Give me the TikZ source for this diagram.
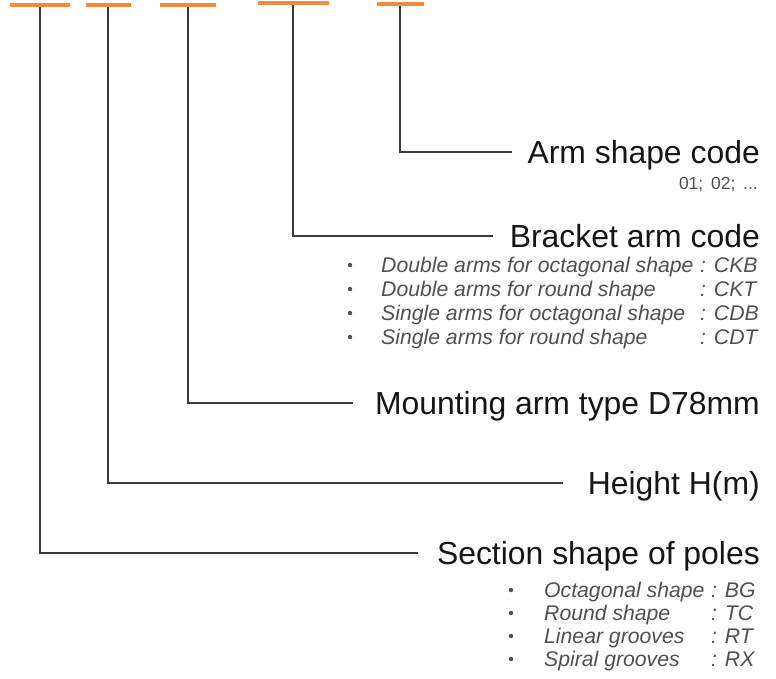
\documentclass[tikz,border=0pt]{standalone}
\usepackage{fontspec}
\setmainfont{Liberation Sans}
\definecolor{barorange}{HTML}{F08A3C}
\definecolor{linegray}{HTML}{3A3A3A}
\definecolor{titlecol}{HTML}{161616}
\definecolor{subcol}{HTML}{505050}
\begin{document}
\begin{tikzpicture}[x=1pt,y=-1pt,
  bar/.style={fill=barorange, draw=none, minimum height=4pt, inner sep=0pt},
  leader/.style={draw=linegray, line width=2pt},
  title/.style={anchor=base east, inner sep=0pt, text=titlecol, font=\fontsize{31.9}{36}\selectfont},
  item/.style={anchor=base west, inner sep=0pt, text=subcol, font=\fontsize{21.2}{24}\selectfont\itshape},
  bul/.style={circle, fill=subcol, inner sep=0pt, minimum size=4.4pt},
  small/.style={anchor=base east, inner sep=0pt, text=subcol, font=\fontsize{17.5}{20}\selectfont}]
\useasboundingbox (0,0) rectangle (776,678);
% orange bars
\node[bar, minimum width=60pt] (b1) at (40,5) {};
\node[bar, minimum width=45pt] (b2) at (108,5) {};
\node[bar, minimum width=56pt] (b3) at (188,5) {};
\node[bar, minimum width=71pt] (b4) at (293,3) {};
\node[bar, minimum width=47pt] (b5) at (400,4) {};
% titles
\node[title] (t5) at (760,163) {Arm shape code};
\node[title] (t4) at (760,247) {Bracket arm code};
\node[title] (t3) at (760,414) {Mounting arm type D78mm};
\node[title] (t2) at (760,494) {Height H(m)};
\node[title] (t1) at (760,564) {Section shape of poles};
% leader ends
\coordinate (e5) at (512,152);
\coordinate (e4) at (493,236);
\coordinate (e3) at (353,403);
\coordinate (e2) at (563,483);
\coordinate (e1) at (418,553);
\draw[leader] (b5.south) |- (e5);
\draw[leader] (b4.south) |- (e4);
\draw[leader] (b3.south) |- (e3);
\draw[leader] (b2.south) |- (e2);
\draw[leader] (b1.south) |- (e1);
% arm shape code values
\node[small] (armcodes) at (758,189) {01;\, 02;\, ...};
% bracket arm list
\node[bul] (kb1) at (350,265) {};
\node[bul] (kb2) at (350,289) {};
\node[bul] (kb3) at (350,313) {};
\node[bul] (kb4) at (350,337) {};
\node[item] (k1) at (381,272) {Double arms for octagonal shape};
\node[item] (k2) at (381,296) {Double arms for round shape};
\node[item] (k3) at (381,320) {Single arms for octagonal shape};
\node[item] (k4) at (381,344) {Single arms for round shape};
\node[item] (kc1) at (700,272) {: CKB};
\node[item] (kc2) at (700,296) {: CKT};
\node[item] (kc3) at (700,320) {: CDB};
\node[item] (kc4) at (700,344) {: CDT};
% section list
\node[bul] (sb1) at (511,590) {};
\node[bul] (sb2) at (511,613) {};
\node[bul] (sb3) at (511,636) {};
\node[bul] (sb4) at (511,659) {};
\node[item] (s1) at (544,597) {Octagonal shape};
\node[item] (s2) at (544,620) {Round shape};
\node[item] (s3) at (544,643) {Linear grooves};
\node[item] (s4) at (544,666) {Spiral grooves};
\node[item] (sc1) at (711,597) {: BG};
\node[item] (sc2) at (711,620) {: TC};
\node[item] (sc3) at (711,643) {: RT};
\node[item] (sc4) at (711,666) {: RX};
\end{tikzpicture}
\end{document}
